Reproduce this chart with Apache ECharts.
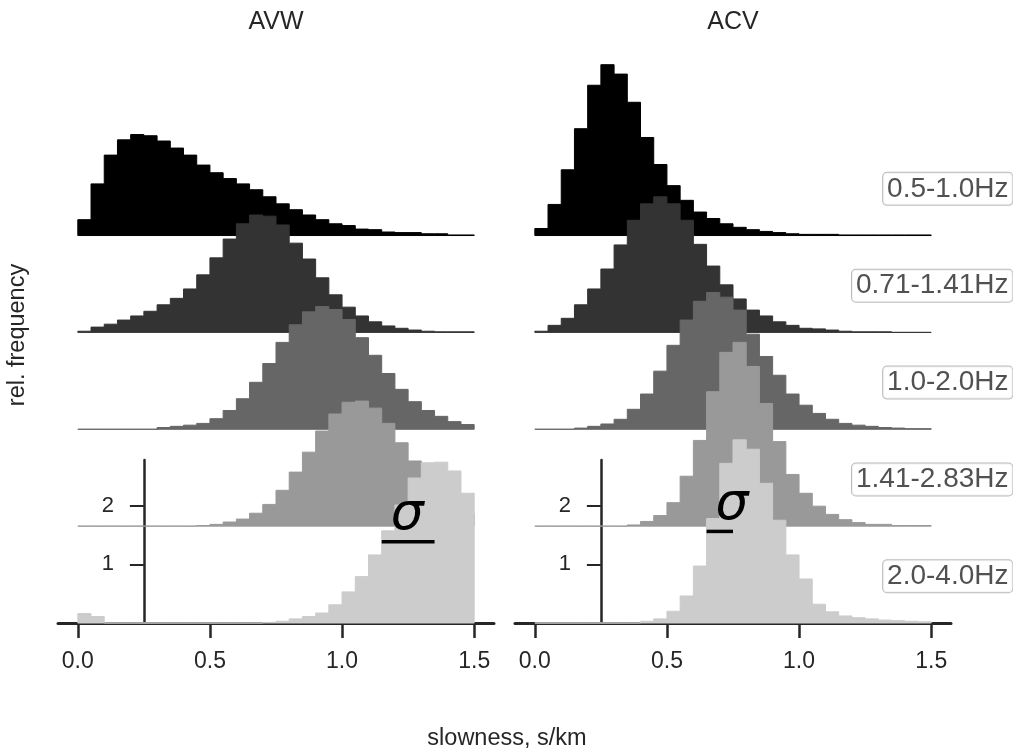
<!DOCTYPE html>
<html>
<head>
<meta charset="utf-8">
<script src="https://cdn.jsdelivr.net/npm/echarts@6/dist/echarts.min.js"></script>
<style>
  html, body { margin: 0; padding: 0; background: #ffffff; }
  #chart { width: 1013px; height: 754px; }
</style>
</head>
<body>
<div id="chart"></div>
<script>
// Slowness histograms (relative frequency density), bins of 0.05 s/km from 0 to 1.5
const binStarts = [0.00, 0.05, 0.10, 0.15, 0.20, 0.25, 0.30, 0.35, 0.40, 0.45,
                   0.50, 0.55, 0.60, 0.65, 0.70, 0.75, 0.80, 0.85, 0.90, 0.95,
                   1.00, 1.05, 1.10, 1.15, 1.20, 1.25, 1.30, 1.35, 1.40, 1.45];
const BIN_WIDTH = 0.05;

const bands = ['0.5-1.0Hz', '0.71-1.41Hz', '1.0-2.0Hz', '1.41-2.83Hz', '2.0-4.0Hz'];
const panels = ['AVW', 'ACV'];

// AVW, one array per frequency band
const avwBand1 = [0.27, 0.88, 1.37, 1.63, 1.72, 1.70, 1.61, 1.49, 1.37, 1.20, 1.07, 0.97, 0.88, 0.78, 0.66, 0.54, 0.44, 0.35, 0.27, 0.20, 0.17, 0.11, 0.10, 0.06, 0.05, 0.05, 0.03, 0.03, 0.01, 0.01];
const avwBand2 = [0.02, 0.09, 0.14, 0.21, 0.28, 0.36, 0.47, 0.58, 0.74, 0.98, 1.27, 1.59, 1.85, 2.00, 1.98, 1.83, 1.52, 1.25, 0.93, 0.64, 0.43, 0.28, 0.18, 0.11, 0.07, 0.04, 0.02, 0.01, 0.01, 0.01];
const avwBand3 = [0, 0, 0, 0, 0, 0, 0.03, 0.05, 0.07, 0.10, 0.18, 0.32, 0.52, 0.80, 1.12, 1.48, 1.78, 2.00, 2.09, 2.04, 1.87, 1.56, 1.26, 0.95, 0.68, 0.47, 0.32, 0.22, 0.13, 0.08];
const avwBand4 = [0, 0, 0, 0, 0, 0, 0, 0, 0, 0.01, 0.03, 0.07, 0.12, 0.22, 0.37, 0.61, 0.92, 1.26, 1.62, 1.91, 2.11, 2.13, 2.01, 1.75, 1.42, 1.11, 0.80, 0.55, 0.35, 0.22];
const avwBand5 = [0.16, 0.11, 0, 0, 0, 0, 0, 0, 0, 0, 0, 0, 0, 0, 0.01, 0.03, 0.07, 0.11, 0.17, 0.31, 0.53, 0.79, 1.16, 1.57, 2.01, 2.47, 2.73, 2.74, 2.59, 2.21];

// ACV, one array per frequency band
const acvBand1 = [0.12, 0.53, 1.12, 1.82, 2.56, 2.91, 2.75, 2.27, 1.67, 1.21, 0.85, 0.60, 0.40, 0.29, 0.20, 0.14, 0.10, 0.07, 0.05, 0.03, 0.02, 0.02, 0.02, 0.01, 0.01, 0.01, 0.01, 0.01, 0.01, 0.01];
const acvBand2 = [0.02, 0.12, 0.24, 0.47, 0.74, 1.08, 1.49, 1.91, 2.19, 2.31, 2.19, 1.91, 1.50, 1.13, 0.81, 0.57, 0.38, 0.28, 0.18, 0.12, 0.07, 0.06, 0.04, 0.02, 0.01, 0.01, 0.01, 0, 0, 0];
const acvBand3 = [0, 0, 0, 0.02, 0.05, 0.09, 0.17, 0.34, 0.60, 0.99, 1.43, 1.86, 2.18, 2.33, 2.25, 2.03, 1.62, 1.24, 0.92, 0.60, 0.41, 0.27, 0.17, 0.10, 0.07, 0.05, 0.03, 0.02, 0.01, 0.01];
const acvBand4 = [0, 0, 0, 0, 0, 0, 0, 0.02, 0.08, 0.18, 0.40, 0.85, 1.46, 2.29, 2.96, 3.13, 2.72, 2.09, 1.44, 0.88, 0.56, 0.34, 0.20, 0.11, 0.06, 0.03, 0.03, 0.01, 0.01, 0.01];
const acvBand5 = [0, 0, 0, 0, 0, 0, 0, 0, 0.03, 0.07, 0.20, 0.46, 0.97, 1.78, 2.72, 3.12, 2.96, 2.38, 1.75, 1.16, 0.75, 0.32, 0.19, 0.12, 0.09, 0.07, 0.05, 0.04, 0.03, 0.02];

// Width marker of the highest band: [start, end, height] in axis units
const sigmaAvw = [1.15, 1.35, 1.385];
const sigmaAcv = [0.65, 0.75, 1.56];

const xTicks = [0.0, 0.5, 1.0, 1.5];
const yTicks = [1, 2];

// ---- styling / layout ----
const FONT = '"Liberation Sans", Arial, sans-serif';
const INK = '#262626';
const fills = ['#000000', '#333333', '#666666', '#999999', '#cccccc'];
const RIDGE_STEP = 1.65;          // vertical spacing between stacked histograms
const X_MIN = -0.075, X_MAX = 1.575;
const Y_MAX = 10.05;
const SCALE_MAX = 2.777;          // extent of the drawn density scale
const GRID_TOP = 33, GRID_H = 590, GRID_W = 436;
const gridLefts = [58, 515];
const SCALE_AT = 0.25;            // x position of the density scale bar

const panelData = [
  [avwBand1, avwBand2, avwBand3, avwBand4, avwBand5],
  [acvBand1, acvBand2, acvBand3, acvBand4, acvBand5]
];
const sigmaData = [sigmaAvw, sigmaAcv];

const baseOf = i => (bands.length - 1 - i) * RIDGE_STEP;
const pxPerY = GRID_H / Y_MAX;
const pxPerX = GRID_W / (X_MAX - X_MIN);

const grids = [], xAxes = [], yAxes = [], series = [];

panels.forEach((p, pi) => {
  // main histogram grid
  grids.push({ left: gridLefts[pi], top: GRID_TOP, width: GRID_W, height: GRID_H });
  xAxes.push({
    gridIndex: pi * 2, type: 'value', min: X_MIN, max: X_MAX,
    axisLine: { show: true, onZero: false, lineStyle: { color: INK, width: 3 } },
    axisTick: { show: true, length: 15, lineStyle: { color: INK, width: 2.5 }, customValues: xTicks },
    axisLabel: { show: true, margin: 27, fontSize: 23, fontFamily: FONT, color: INK,
                 customValues: xTicks, formatter: v => Number(v).toFixed(1) },
    splitLine: { show: false }
  });
  yAxes.push({ gridIndex: pi * 2, type: 'value', min: 0, max: Y_MAX, show: false });

  // short density scale drawn at x = SCALE_AT
  const scaleLeft = gridLefts[pi] + (SCALE_AT - X_MIN) * pxPerX;
  const scaleH = SCALE_MAX * pxPerY;
  grids.push({ left: scaleLeft, top: GRID_TOP + GRID_H - scaleH, width: 10, height: scaleH });
  xAxes.push({ gridIndex: pi * 2 + 1, type: 'value', min: 0, max: 1, show: false });
  yAxes.push({
    gridIndex: pi * 2 + 1, type: 'value', min: 0, max: SCALE_MAX,
    axisLine: { show: true, lineStyle: { color: INK, width: 2.5 } },
    axisTick: { show: true, length: 14, lineStyle: { color: INK, width: 2 }, customValues: yTicks },
    axisLabel: { show: true, margin: 30, fontSize: 22, fontFamily: FONT, color: INK,
                 customValues: yTicks, formatter: v => String(v) },
    splitLine: { show: false }
  });

  // stacked histograms as filled step outlines; lower bands drawn over the upper ones
  panelData[pi].forEach((vals, bi) => {
    const base = baseOf(bi);
    const color = fills[bi];
    series.push({
      type: 'custom',
      name: p + ' ' + bands[bi],
      xAxisIndex: pi * 2, yAxisIndex: pi * 2,
      silent: true,
      data: binStarts.map((x, k) => [x, vals[k]]),
      renderItem: (params, api) => {
        if (params.dataIndexInside !== 0) return null;
        const n = params.dataInsideLength;
        const pts = [api.coord([api.value(0, 0), base])];
        for (let k = 0; k < n; k++) {
          const x0 = api.value(0, k), h = api.value(1, k);
          pts.push(api.coord([x0, base + h]));
          pts.push(api.coord([x0 + BIN_WIDTH, base + h]));
        }
        pts.push(api.coord([api.value(0, n - 1) + BIN_WIDTH, base]));
        return {
          type: 'polygon',
          shape: { points: pts },
          style: { fill: color, stroke: color, lineWidth: 1 }
        };
      }
    });
  });

  // band names, right side, halfway between baselines
  if (pi === 1) {
    series.push({
      type: 'scatter',
      xAxisIndex: 2, yAxisIndex: 2,
      clip: false, silent: true,
      symbolSize: 0,
      data: bands.map((b, bi) => ({ name: b, value: [X_MAX + (1012.5 - (gridLefts[1] + GRID_W)) / pxPerX, baseOf(bi) + RIDGE_STEP / 2 - 0.03] })),
      label: {
        show: true, position: 'left', distance: 0, formatter: '{b}',
        fontSize: 28, fontFamily: FONT, color: INK,
        backgroundColor: '#ffffff', borderColor: '#aaaaaa', borderWidth: 1, borderRadius: 4,
        padding: [3, 4, 1, 4]
      },
      z: 10
    });
  }

  // sigma width marker
  series.push({
    type: 'custom',
    xAxisIndex: pi * 2, yAxisIndex: pi * 2,
    silent: true,
    data: [sigmaData[pi]],
    z: 12,
    renderItem: (params, api) => {
      const a = api.coord([api.value(0), api.value(2)]);
      const b = api.coord([api.value(1), api.value(2)]);
      return {
        type: 'group',
        children: [
          { type: 'line', shape: { x1: a[0], y1: a[1], x2: b[0], y2: b[1] },
            style: { stroke: '#000000', lineWidth: 3.5 } },
          { type: 'text', x: a[0] + 9, y: a[1] - 26,
            style: { text: 'σ', font: 'italic 52px "DejaVu Sans"', fill: '#000000',
                     align: 'left', verticalAlign: 'middle', textAlign: 'left', textVerticalAlign: 'middle' } }
        ]
      };
    }
  });
});

const chart = echarts.init(document.getElementById('chart'), null, { renderer: 'canvas' });
chart.setOption({
  animation: false,
  backgroundColor: '#ffffff',
  grid: grids,
  xAxis: xAxes,
  yAxis: yAxes,
  series: series,
  graphic: [
    ...panels.map((p, pi) => ({
      type: 'text', x: gridLefts[pi] + GRID_W / 2, y: 22,
      style: { text: p, font: '25px ' + FONT, fill: INK, align: 'center', verticalAlign: 'middle',
               textAlign: 'center', textVerticalAlign: 'middle' }
    })),
    { type: 'text', x: 507, y: 739,
      style: { text: 'slowness, s/km', font: '23.5px ' + FONT, fill: INK, align: 'center', verticalAlign: 'middle',
               textAlign: 'center', textVerticalAlign: 'middle' } },
    { type: 'text', x: 18, y: 335, rotation: Math.PI / 2,
      style: { text: 'rel. frequency', font: '23.5px ' + FONT, fill: INK, align: 'center', verticalAlign: 'middle',
               textAlign: 'center', textVerticalAlign: 'middle' } }
  ]
});
</script>
</body>
</html>
